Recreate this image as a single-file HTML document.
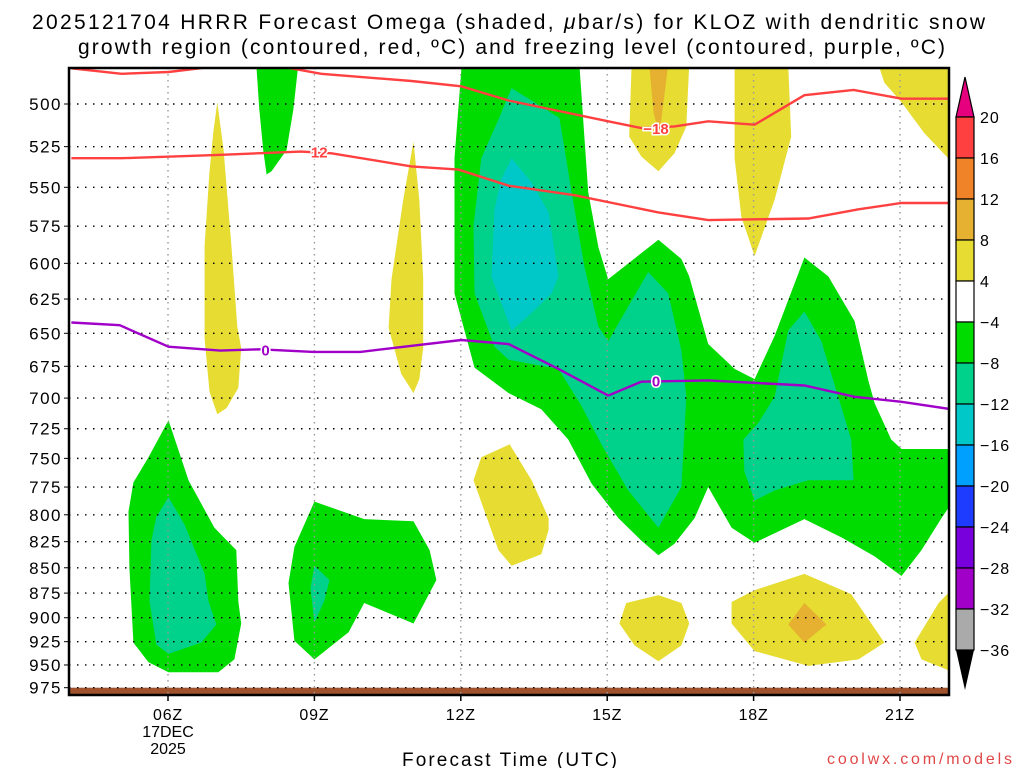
<!DOCTYPE html>
<html><head><meta charset="utf-8"><style>
html,body{margin:0;padding:0;background:#fff;}
svg{display:block;font-family:"Liberation Sans",sans-serif;}
</style></head><body>
<svg id="chart" width="1024" height="768" viewBox="0 0 1024 768" xmlns="http://www.w3.org/2000/svg">
<text x="32" y="29" font-size="21" textLength="953" lengthAdjust="spacing">2025121704 HRRR Forecast Omega (shaded, <tspan font-style="italic">μ</tspan>bar/s) for KLOZ with dendritic snow</text>
<text x="78" y="54" font-size="21" textLength="867" lengthAdjust="spacing">growth region (contoured, red, ºC) and freezing level (contoured, purple, ºC)</text>
<defs><clipPath id="pc"><rect x="69" y="68" width="880" height="627"/></clipPath></defs>
<g id="fills" clip-path="url(#pc)"></g>
<g id="grid"></g>
<g id="lines" clip-path="url(#pc)"></g>
<g id="axes"></g>
<g id="cbar"></g>
<text x="402" y="766" font-size="19" textLength="215" lengthAdjust="spacing">Forecast Time (UTC)</text>
<text x="827" y="764" font-size="16" fill="#e04848" textLength="185" lengthAdjust="spacing">coolwx.com/models</text>
</svg>
<script>
const pressureTicks=[500,525,550,575,600,625,650,675,700,725,750,775,800,825,850,875,900,925,950,975];
const timeTicks=[6,9,12,15,18,21];
const timeLabels=["06Z","09Z","12Z","15Z","18Z","21Z"];
const cbarLevels=[20,16,12,8,4,-4,-8,-12,-16,-20,-24,-28,-32,-36];
const cbarColors=["#ff4040","#f08228","#e6b030","#e6dc32","#ffffff","#00dc00","#00d28c","#00c8c8","#00a0ff","#1e3cff","#7800dc","#a000c8","#aaaaaa"];
// contour polygons: [hour, hPa]
const greenTop=[[7.81,478],[8.67,478],[8.57,503],[8.43,527],[8.12,540],[8.02,542],[7.95,527],[7.87,503]];
const greenBig=[[12.01,478],[14.43,478],[14.61,553],[14.82,589],[15.02,611],[16.05,584],[16.52,597],[16.68,609],[17.07,658],[17.61,677],[18.02,685],[18.43,652],[19.04,596],[19.53,609],[20.07,641],[20.35,686],[20.48,704],[20.82,734],[21.03,742],[22.05,742],[22.05,790],[21.85,803],[21.44,833],[21.03,858],[20.48,839],[19.8,821],[19.04,804],[18.02,826],[17.55,812],[17.07,775],[16.79,803],[16.38,827],[16.05,838],[15.70,824],[15.23,803],[14.68,772],[14.2,734],[13.65,709],[12.98,696],[12.28,676],[11.87,621],[11.87,532],[12.01,481]];
const tealBig=[[13.04,491],[14.02,508],[14.27,553],[14.53,602],[14.82,645],[15.02,656],[15.84,606],[16.25,621],[16.52,663],[16.62,699],[16.52,775],[16.05,812],[15.43,778],[14.88,738],[14.47,706],[14.0,677],[12.98,670],[12.69,660],[12.28,621],[12.26,575],[12.42,532],[12.77,509]];
const cyanCore=[[13.04,532],[13.45,547],[13.80,566],[14.0,609],[13.86,621],[13.45,635],[13.04,648],[12.63,609],[12.69,564],[12.83,545]];
const tealRight=[[19.04,634],[19.39,656],[20.0,734],[20.05,769],[19.12,769],[18.43,778],[18.02,787],[17.81,761],[17.79,734],[18.1,720],[18.43,699],[18.71,648]];
const greenLL1=[[6.01,718],[6.42,769],[6.95,812],[7.40,833],[7.44,883],[7.50,906],[7.36,944],[7.03,958],[6.01,958],[5.6,947],[5.29,926],[5.21,850],[5.19,797],[5.29,771],[5.6,749]];
const tealLL1=[[6.01,784],[6.34,809],[6.75,856],[6.83,883],[6.99,907],[6.68,926],[6.01,938],[5.76,928],[5.62,883],[5.66,824],[5.76,802]];
const greenLL2=[[9.0,788],[10.02,804],[11.03,806],[11.36,833],[11.5,862],[11.03,906],[10.02,885],[9.70,915],[9.0,944],[8.59,924],[8.47,865],[8.59,830]];
const tealLL2=[[9.0,848],[9.31,862],[9.2,883],[9.0,905],[8.92,870]];
const yellow1=[[7.01,499],[7.14,527],[7.30,588],[7.42,645],[7.50,661],[7.44,692],[7.20,708],[7.01,713],[6.85,695],[6.75,654],[6.75,588],[6.85,540],[6.93,516]];
const yellow2=[[11.03,522],[11.15,558],[11.23,611],[11.23,661],[11.15,685],[11.03,696],[10.78,681],[10.52,646],[10.58,611],[10.82,558]];
const yellow3=[[13.0,738],[13.45,769],[13.8,803],[13.8,814],[13.65,837],[13.04,848],[12.77,833],[12.26,769],[12.42,749]];
const yellow4=[[16.05,877],[16.52,885],[16.68,906],[16.52,929],[16.05,946],[15.56,929],[15.25,906],[15.39,885]];
const yellow5=[[19.04,856],[20.0,876],[20.68,926],[20.15,944],[19.12,951],[18.02,935],[17.55,906],[17.55,884],[18.02,872]];
const yellow6=[[22.05,872],[21.79,885],[21.3,926],[21.44,944],[22.05,957]];
const yellow7=[[15.5,478],[16.68,478],[16.62,513],[16.38,529],[16.05,540],[15.70,531],[15.45,519]];
const yellow8=[[17.61,478],[18.71,478],[18.77,519],[18.43,558],[18.02,595],[17.75,569],[17.61,532]];
const yellow9=[[20.56,478],[22.05,478],[22.05,534],[21.5,517],[21.03,499],[20.68,488]];
const orange1=[[19.04,885],[19.49,907],[19.04,926],[18.71,907]];
const orange2=[[15.86,478],[16.25,478],[16.07,518],[15.95,505]];
// contour lines
const redLow=[[4.02,532],[5.05,532],[7.03,530],[8.73,528],[9.35,529],[10.99,537],[11.95,539],[12.98,549],[14.33,555],[16.05,566],[17.07,571],[19.12,570],[20.15,564],[21.03,560],[22.05,560]];
const redHighA=[[4.02,480],[5.05,483],[6.01,482],[6.95,479]];
const redHighB=[[8.32,479],[9.14,483],[10.99,487],[12.01,490],[12.98,498],[15.02,510],[15.70,514],[16.38,513],[17.07,510],[18.02,512],[19.04,495],[20.05,492],[21.03,497],[22.05,497]];
const purple=[[4.02,642],[5.01,644],[6.01,660],[7.07,663],[7.89,662],[8.98,664],[9.94,664],[12.01,655],[12.98,658],[14.0,677],[15.02,698],[15.70,687],[17.07,686],[19.04,690],[20.07,699],[21.03,703],[22.05,709]];
const lineLabels=[[9.1,528,"12","#ff4040"],[16.0,514,"−18","#ff4040"],[8.0,662,"0","#a000c8"],[16.0,686,"0","#a000c8"]];
const groundP=[975];

const X0=69,X1=949,Y0=68,Y1=695;
function xs(h){return 168+(h-6)*48.8;}
function ys(p){return 104+874*Math.log(p/500);}
const NS="http://www.w3.org/2000/svg";
function mk(tag,attrs,parent){const e=document.createElementNS(NS,tag);for(const k in attrs)e.setAttribute(k,attrs[k]);parent.appendChild(e);return e;}
const fills=document.getElementById('fills'),grid=document.getElementById('grid'),lines=document.getElementById('lines'),axes=document.getElementById('axes'),cbar=document.getElementById('cbar');
function pts(a){return a.map(d=>xs(d[0]).toFixed(1)+","+ys(d[1]).toFixed(1)).join(" ");}
const shapes=[[greenTop,"#00dc00","green-region-top"],[greenBig,"#00dc00","green-region-main"],[tealBig,"#00d28c","teal-region-main"],[cyanCore,"#00c8c8","cyan-core"],[tealRight,"#00d28c","teal-region-right"],[greenLL1,"#00dc00","green-region-06z"],[tealLL1,"#00d28c","teal-region-06z"],[greenLL2,"#00dc00","green-region-09z"],[tealLL2,"#00d28c","teal-region-09z"],[yellow1,"#e6dc32","yellow-region-07z"],[yellow2,"#e6dc32","yellow-region-11z"],[yellow3,"#e6dc32","yellow-region-13z"],[yellow4,"#e6dc32","yellow-region-16z-low"],[yellow5,"#e6dc32","yellow-region-19z-low"],[yellow6,"#e6dc32","yellow-region-22z-low"],[yellow7,"#e6dc32","yellow-region-16z-high"],[yellow8,"#e6dc32","yellow-region-18z-high"],[yellow9,"#e6dc32","yellow-region-21z-high"],[orange1,"#e6b030","orange-region-19z"],[orange2,"#e6b030","orange-region-16z"]];
shapes.forEach(s=>{const e=mk('polygon',{points:pts(s[0]),fill:s[1]},fills);

});
// ground
const g=mk('rect',{x:X0,y:ys(groundP[0]),width:X1-X0,height:Y1-ys(groundP[0]),fill:"#a0522d"},fills);


// grid
pressureTicks.forEach(p=>{const y=ys(p);
const l=mk('line',{x1:X0,x2:X1,y1:y,y2:y,stroke:"#000","stroke-width":1.4,"stroke-dasharray":"1.5,6.5"},grid);


const t=mk('text',{x:62,y:y+6,"text-anchor":"end","font-size":17,"letter-spacing":"1.5"},axes);t.textContent=p;


mk('line',{x1:X0-5,x2:X0,y1:y,y2:y,stroke:"#000"},axes);});
timeTicks.forEach((h,i)=>{const x=xs(h);
const l=mk('line',{x1:x,x2:x,y1:Y0,y2:Y1,stroke:"#999","stroke-width":1.4,"stroke-dasharray":"1.5,4.5"},grid);


mk('line',{x1:x,x2:x,y1:Y1,y2:Y1+6,stroke:"#000","stroke-width":1.5},axes);
const t=mk('text',{x:x,y:720,"text-anchor":"middle","font-size":16,"letter-spacing":"0.8"},axes);t.textContent=timeLabels[i];

});
[["17DEC",737],["2025",754]].forEach(d=>{const t=mk('text',{x:xs(6),y:d[1],"text-anchor":"middle","font-size":16},axes);t.textContent=d[0];

});
// lines
function pl(a,c,name){const e=mk('polyline',{points:pts(a),fill:"none",stroke:c,"stroke-width":2.4},lines);

}
pl(redLow,"#ff4040","dgz-line-minus12");pl(redHighA,"#ff4040","dgz-line-minus18-left");pl(redHighB,"#ff4040","dgz-line-minus18");pl(purple,"#a000c8","freezing-level-line");
lineLabels.forEach(d=>{const x=xs(d[0]),y=ys(d[1]);
const t=mk('text',{x:x,y:y+6,"text-anchor":"middle","font-size":15,"font-weight":"bold",fill:d[3],stroke:"#fff","stroke-width":3,"paint-order":"stroke"},lines);t.textContent=d[2];

});
const fr=mk('rect',{x:X0,y:Y0,width:X1-X0,height:Y1-Y0,fill:"none",stroke:"#000","stroke-width":2.5},axes);


// colorbar
const CX=956,CW=18,CT=117,CH=41;
mk('polygon',{points:`${CX},${CT} ${CX+CW},${CT} ${CX+CW/2},${CT-40}`,fill:"#e6007e",stroke:"#000","stroke-width":1.2},cbar);
cbarColors.forEach((c,i)=>{const r=mk('rect',{x:CX,y:CT+i*CH,width:CW,height:CH,fill:c,stroke:"#000","stroke-width":1.2},cbar);

});
const bot=CT+cbarColors.length*CH;
mk('polygon',{points:`${CX},${bot} ${CX+CW},${bot} ${CX+CW/2},${bot+40}`,fill:"#000"},cbar);
cbarLevels.forEach((v,i)=>{const t=mk('text',{x:980,y:CT+i*CH+6,"font-size":16,"letter-spacing":"1"},cbar);t.textContent=(v<0?"−":"")+Math.abs(v);

});
</script>
</body></html>
